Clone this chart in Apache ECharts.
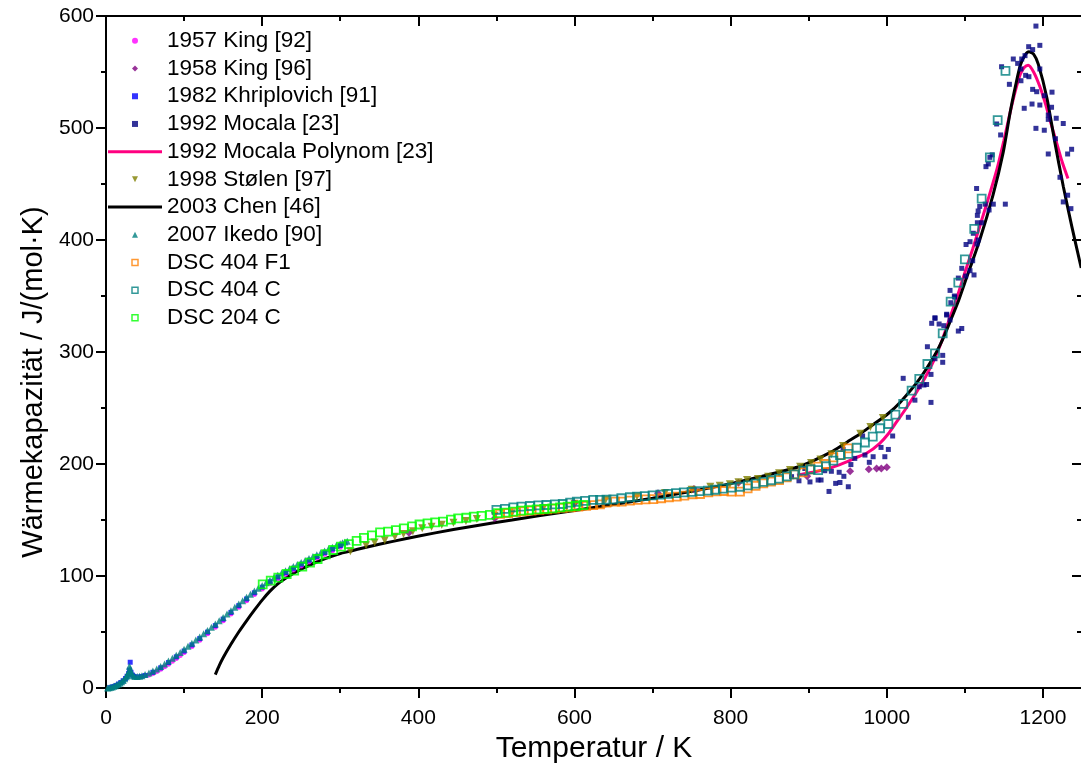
<!DOCTYPE html>
<html>
<head>
<meta charset="utf-8">
<script src="https://cdn.jsdelivr.net/npm/echarts@6/dist/echarts.min.js"></script>
<style>html,body{margin:0;padding:0;background:#fff}#c{width:1081px;height:766px}</style>
</head>
<body>
<div id="c"></div>
<script>
// ---------- data (T in K, Cp in J/(mol·K)) ----------
const seriesNames = ['1957 King [92]','1958 King [96]','1982 Khriplovich [91]','1992 Mocala [23]','1992 Mocala Polynom [23]','1998 Stølen [97]','2003 Chen [46]','2007 Ikedo [90]','DSC 404 F1','DSC 404 C','DSC 204 C'];
const xTicks = [0,200,400,600,800,1000,1200];
const yTicks = [0,100,200,300,400,500,600];

const king1957 = [[55,11.5],[60,13],[65,14.7],[70,16.7],[75,19],[80,21.3],[85,23.8],[90,26.4],[95,29],[100,31.6],[110,37],[120,42.6],[130,48.4],[140,54.2],[150,60],[160,66],[170,72],[180,78],[190,83.5],[200,88.5],[210,93.3],[220,97.6],[230,101.6],[240,105.4],[250,109],[260,112.6],[270,116],[280,119.4],[290,122.6],[300,125.7]];
const king1958 = [[388,138.7],[498,151.6],[600,165],[707,173.8],[753,177.7],[810,183.3],[898,189],[953,193.5],[977,195.3],[987,196],[993,196],[1000,197]];
const khriplovich = [[5,0.3],[8,0.8],[10,1.3],[13,2.3],[16,3.5],[19,4.9],[22,6.5],[25,8.5],[27,10.5],[29,13],[30,16],[31,23],[32,14],[34,11.5],[36,10.3],[40,9.8],[45,10.3],[50,11.2],[60,14],[70,18],[80,22.7],[90,27.8],[100,33],[110,38.5],[120,44.1],[130,49.9],[140,55.7],[150,61.5],[160,67.5],[170,73.5],[180,79.5],[190,85],[200,90],[210,94.8],[220,99.1],[230,103.1],[240,106.9],[250,110.5],[260,114.1],[270,117.5],[280,120.9],[290,124.1],[300,127.2]];
const mocala = [[878,188.7],[887.5,185],[901.6,184],[912,185.7],[915.8,185.7],[926,175.5],[929,193.5],[934.5,182.7],[940,183.5],[950.7,179.7],[939,192.6],[945,189],[954,199.5],[959,205],[972,208],[977.6,201.5],[982.5,206.5],[992.6,214.8],[997.5,206.5],[1002,213],[1007.5,225],[969,225],[944,213],[895,196],[920.5,194],
 [1021,276.5],[1027.6,241.7],[1036,257],[1041.6,269],[1047.6,270.5],[1051,271],[1056.6,280],[1056.6,255],[1052,304.7],[1061.7,294],[1071.6,297],[1071.6,290.8],[1057.5,325.6],[1061.7,330],[1067,325],[1073,323.5],[1076.7,333],[1081,328.6],[1091.6,318.7],[1096,321],
 [1110,381.5],[1096,374.7],[1106.6,372.6],[1111.7,368.8],[1101,367.8],[1091.6,366],[1081,355],[1087,349],[1082,344],[1076.7,333.7],
 [1191,591],[1196,573.8],[1181.7,572.6],[1186.8,570],[1162,561.6],[1167.6,557.7],[1172.8,561.6],[1177,564.6],[1147,554.7],[1171.8,552.7],[1196,552.7],[1177.8,547],[1182,545.8],[1171.8,542.2],[1157,539],[1186.8,534.5],[1192,532.4],[1211.6,532],[1201.7,528.8],[1176,517.6],[1186,521.4],[1196,520.5],[1211,518.5],[1206.8,511.6],[1206.8,507.7],[1217,508.7],[1226,504],[1191,499.7],[1201.7,498],[1216,490.4],[1206.8,476.8],[1231.6,476.8],[1236.7,481],[1221.8,456],[1231.6,440],[1226,434],[1235.8,428],[1140.7,503.6],[1145.8,493.8],[1132,473.8],[1135,476],[1127,465.5],[1130,467.9],[1115,446],[1119,430],[1117,425.9],[1126,432],[1136.4,432],[1151.8,432],[1131,426.8],[1116,422],[1121.5,415.4],[1116,415.4],[1110.8,406],[1117,400],[1115.4,396.4],[1101.5,396],[1106.6,398.5],[1061.7,330.6],[1086.5,350]];
const mocalaPolynom = [[885,190],[900,192],[920,195],[940,199.5],[960,205.5],[975,210],[991,218.5],[1002,227],[1013,238],[1025,250],[1038,264],[1049,277],[1060,292],[1070,309],[1079,327],[1090,349],[1100,371],[1110,392],[1119,412],[1130,437],[1141,463],[1150,489],[1158,514],[1165,534],[1171,548],[1176,554],[1181,556],[1188,550],[1196,537],[1203,522],[1209,507],[1217,488],[1224,471],[1232,455]];
const stolen = [[313,122],[333,127.5],[344,130],[357,132],[370,135],[381,137.5],[393,140],[405,142.6],[417,144],[430,145.8],[445,147.5],[461,149],[475,151],[498,153.8],[520,156],[560,160.5],[600,164.5],[640,168],[680,171],[716,174],[750,177],[774,179.7],[786,180.6],[799,182],[810,183.7],[821,185.7],[835,186.6],[848,188.7],[862,191.7],[876,194.6],[889,197.6],[903,201],[915,204],[929,208.6],[944,216],[966,227],[979,233],[995,241]];
const chen = [[140,12],[145,20],[150,27],[160,39],[170,50],[180,60],[190,69.5],[200,78.5],[210,86.5],[220,93],[230,98],[240,102.3],[250,106],[260,109.5],[270,112.5],[280,115.3],[290,117.8],[300,120],[312,122],[325,124.3],[350,128.3],[385,133.5],[420,138.3],[470,144.5],[520,150],[556,154],[600,158.5],[633,162],[700,169.5],[761,177],[800,182.5],[846,190],[889,198],[931,211.5],[949,219.5],[966,227],[980,234],[1000,244],[1017,255],[1042,276],[1062,298],[1072,312],[1081,327],[1092,346],[1100,362],[1119,400],[1136,440],[1149,478],[1158,514],[1165,538],[1171,556],[1177,565],[1182,568],[1188,566],[1194,557],[1205,527],[1215,488],[1226,448],[1237,412],[1249,375]];
const ikedo = [[2,0.1],[4,0.3],[6,0.6],[8,1],[10,1.5],[12,2.1],[14,2.8],[16,3.6],[18,4.5],[20,5.5],[22,6.7],[24,8.2],[26,10],[27,11.2],[28,12.8],[29,14.8],[30,19.5],[31,17],[32,14],[33,12.5],[35,11],[37,10.3],[40,10.2],[43,10.4],[46,11],[50,12],[55,13.5],[60,15.2],[65,17],[70,19.2],[75,21.5],[80,24],[85,26.6],[90,29.2],[95,31.8],[100,34.5],[105,37.2],[110,40],[115,42.8],[120,45.6],[125,48.5],[130,51.4],[135,54.3],[140,57.2],[145,60.1],[150,63],[155,66],[160,69],[165,72],[170,75],[175,78],[180,81],[185,83.8],[190,86.5],[195,89],[200,91.5],[205,94],[210,96.3],[215,98.5],[220,100.6],[225,102.6],[230,104.6],[235,106.5],[240,108.4],[245,110.2],[250,112],[255,113.8],[260,115.6],[265,117.3],[270,119],[275,120.7],[280,122.4],[285,124],[290,125.6],[295,127.2],[300,128.7],[303,129.6],[306,130.4],[309,131]];
const dsc404F1 = [[504.6,155.4],[515,156.2],[525,157],[535,157.7],[545,158.3],[555,159],[565,159.6],[575,160.2],[585,160.8],[595,161.4],[605,162],[615,162.6],[624,163.2],[632.6,164],[641,165.5],[652,166.4],[660.5,166.4],[671,167.3],[681,167.9],[691,168.5],[701,168.7],[711,169.4],[721,170.3],[731,170.8],[740.7,171.7],[751.4,173],[760.8,173.2],[771.4,174.7],[782,175.6],[791.5,175.9],[801,175.3],[812,175.3],[821.8,178.3],[832,180.6],[841.8,182.7],[851.7,184.2],[862,185.7],[871.7,188],[882.4,190.8],[892.3,192.6],[901.6,195.3],[912,197.6],[922,200],[931.5,206],[941.4,208],[950.7,214]];
const dsc404C = [[500,159],[511,160],[521.7,161.3],[532,162],[543,162.5],[553.7,163],[564,163.4],[575,164],[585,164.3],[594.4,165.5],[603,166.3],[613.6,167],[624,167.9],[632.6,167.9],[641,168.2],[649.7,168.5],[660,169.4],[671,170.3],[680,170.9],[690,171.4],[700,172],[710,172.6],[720,173.3],[730,174],[740,174.6],[750,175.2],[760,175.7],[771,176.2],[780,177],[790,178],[801,178.9],[812,179.7],[822,181],[832,182.5],[842,184],[852,185.5],[862,187],[872,189],[881.5,190.8],[893,194],[902.5,195.3],[912,194.6],[922,198],[931.5,203],[940,208],[950.7,209],[961.4,214.5],[972,219.2],[982,224.4],[991.3,231.9],[1002,235.7],[1011,244],[1021,253.6],[1031.8,265.5],[1041.6,276],[1052,289.3],[1061.7,298.8],[1071.6,316.7],[1081.8,345],[1091.6,361.9],[1100,382.7],[1112,410],[1121.5,437],[1132,473.8],[1142,507],[1152,551]];
const dsc204C = [[200.7,92.6],[211,95.8],[220.7,98.5],[231.4,101.8],[241,104.8],[251.4,108.3],[261.3,111.9],[271,115.2],[281.4,119.4],[291,123.2],[301,126.2],[311,128.5],[321,131.4],[330.3,134],[340.5,136.2],[351,138.9],[361.3,139.6],[371.2,141],[381.4,142.5],[392,144.3],[401.5,146],[411.8,147],[421.5,147.8],[431.5,148.5],[441.8,150.3],[451,151.5],[461.5,152],[471,153],[481,153.7],[491.8,154.5],[501.7,156.2],[512,156.5],[521.6,157.4],[531.5,158.3],[541.7,158.9],[551.6,159.5],[561.4,159.8],[571.6,160.4],[581.5,161.3],[591.3,161.9],[601.6,162.5],[611.3,163.4]];

// ---------- chart ----------
const FONT = 'Liberation Sans, Arial, sans-serif';
const chart = echarts.init(document.getElementById('c'), null, {renderer: 'canvas'});

function scatter(name, data, symbol, size, color, extra) {
  return Object.assign({
    name, type: 'scatter', data, symbol, symbolSize: size,
    itemStyle: {color}, animation: false, xAxisIndex: 0, yAxisIndex: 0
  }, extra || {});
}
function hollow(name, data, color) {
  return scatter(name, data, 'rect', 8, 'rgba(0,0,0,0)', {itemStyle: {color: 'rgba(0,0,0,0)', borderColor: color, borderWidth: 1.8}});
}
function line(name, data, color) {
  return {name, type: 'line', data, symbol: 'none', smooth: 0.25, lineStyle: {color, width: 3}, itemStyle: {color}, animation: false, xAxisIndex: 0, yAxisIndex: 0, z: 2};
}

// legend icons (keep aspect so they stay small and square)
const ICON_SQ = 'path://M0,0L1,0L1,1L0,1Z';
const ICON_CIRCLE = 'path://M0,0.5A0.5,0.5,0,1,1,1,0.5A0.5,0.5,0,1,1,0,0.5Z';
const ICON_DIAMOND = 'path://M0.5,0L1,0.5L0.5,1L0,0.5Z';
const ICON_UP = 'path://M0.5,0L1,1L0,1Z';
const ICON_DOWN = 'path://M0,0L1,0L0.5,1Z';
const ICON_LINE = 'path://M0,0L54,0L54,3L0,3Z';
const hollowIcon = c => ({icon: ICON_SQ, itemStyle: {color: 'rgba(0,0,0,0)', borderColor: c, borderWidth: 1.5}});
const legendIcons = [
  {icon: ICON_CIRCLE}, {icon: ICON_DIAMOND}, {icon: ICON_SQ}, {icon: ICON_SQ}, {icon: ICON_LINE},
  {icon: ICON_DOWN}, {icon: ICON_LINE}, {icon: ICON_UP},
  hollowIcon('#FF8000'), hollowIcon('#008080'), hollowIcon('#00FF00')
];

const commonX = {type: 'value', min: 0, max: 1250, splitLine: {show: false}, axisLine: {onZero: false}};
const option = {
  backgroundColor: '#fff',
  textStyle: {fontFamily: FONT},
  grid: {left: 106, right: -1, top: 16, bottom: 78, containLabel: false, outerBoundsMode: 'none'},
  legend: {
    orient: 'vertical', left: 103, top: 22, itemWidth: 54, itemHeight: 6, itemGap: 0, padding: 5,
    symbolKeepAspect: true,
    textStyle: {fontSize: 22.5, color: '#000', fontFamily: FONT, lineHeight: 27.7},
    data: seriesNames.map((n, i) => Object.assign({name: n}, legendIcons[i]))
  },
  xAxis: [
    Object.assign({}, commonX, {position: 'bottom', interval: 200,
      name: 'Temperatur / K', nameLocation: 'middle', nameGap: 42,
      nameTextStyle: {fontSize: 30, color: '#000', fontFamily: FONT},
      axisLine: {onZero: false, lineStyle: {color: '#000', width: 2}},
      axisTick: {inside: false, length: 10, lineStyle: {color: '#000', width: 2}},
      axisLabel: {fontSize: 21, color: '#000', margin: 20, showMaxLabel: false, fontFamily: FONT,
        formatter: v => xTicks.indexOf(v) >= 0 ? String(v) : ''}}),
    Object.assign({}, commonX, {position: 'bottom', interval: 100,
      axisLine: {show: false, onZero: false}, axisLabel: {show: false},
      axisTick: {inside: false, length: 5, lineStyle: {color: '#000', width: 2}}}),
    Object.assign({}, commonX, {position: 'top', interval: 200,
      axisLine: {onZero: false, lineStyle: {color: '#000', width: 2}}, axisLabel: {show: false},
      axisTick: {inside: true, length: 10, lineStyle: {color: '#000', width: 2}}}),
    Object.assign({}, commonX, {position: 'top', interval: 100,
      axisLine: {show: false, onZero: false}, axisLabel: {show: false},
      axisTick: {inside: true, length: 5, lineStyle: {color: '#000', width: 2}}})
  ],
  yAxis: [
    {type: 'value', position: 'left', min: 0, max: 600, interval: 100,
      name: 'Wärmekapazität / J/(mol·K)', nameLocation: 'middle', nameGap: 58,
      nameTextStyle: {fontSize: 29, color: '#000', fontFamily: FONT, padding: [0, 60, 0, 0]},
      axisLine: {onZero: false, lineStyle: {color: '#000', width: 2}},
      axisTick: {inside: false, length: 10, lineStyle: {color: '#000', width: 2}},
      minorTick: {show: true, splitNumber: 2, length: 5, lineStyle: {color: '#000', width: 2}},
      axisLabel: {fontSize: 21, color: '#000', margin: 12, fontFamily: FONT,
        formatter: v => yTicks.indexOf(v) >= 0 ? String(v) : ''},
      splitLine: {show: false}},
    {type: 'value', position: 'right', min: 0, max: 600, interval: 100,
      axisLine: {onZero: false, lineStyle: {color: '#000', width: 2}},
      axisTick: {inside: true, length: 10, lineStyle: {color: '#000', width: 2}},
      minorTick: {show: true, splitNumber: 2, length: 5, lineStyle: {color: '#000', width: 2}},
      axisLabel: {show: false}, splitLine: {show: false}}
  ],
  series: [
    scatter(seriesNames[0], king1957, 'circle', 5, '#FF00FF'),
    scatter(seriesNames[1], king1958, 'diamond', 8, '#800080'),
    scatter(seriesNames[2], khriplovich, 'rect', 5, '#0000FF'),
    scatter(seriesNames[3], mocala, 'rect', 5, '#000080'),
    line(seriesNames[4], mocalaPolynom, '#FF0080'),
    scatter(seriesNames[5], stolen, 'triangle', 8, '#808000', {symbolRotate: 180}),
    line(seriesNames[6], chen, '#000000'),
    scatter(seriesNames[7], ikedo, 'triangle', 7, '#008080'),
    hollow(seriesNames[8], dsc404F1, '#FF8000'),
    hollow(seriesNames[9], dsc404C, '#008080'),
    hollow(seriesNames[10], dsc204C, '#00FF00')
  ]
};
chart.setOption(option);
</script>
</body>
</html>
